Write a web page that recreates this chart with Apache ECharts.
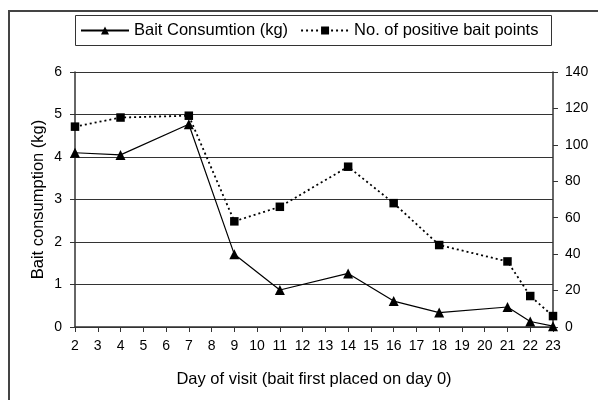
<!DOCTYPE html>
<html>
<head>
<meta charset="utf-8">
<script src="https://cdn.jsdelivr.net/npm/echarts@6/dist/echarts.min.js"></script>
<style>
html,body{margin:0;padding:0;background:#fff;}
#chart{width:598px;height:400px;}
</style>
</head>
<body>
<div id="chart"></div>
<script>
const visitDays = [2, 4, 7, 9, 11, 14, 16, 18, 21, 22, 23];
const baitKg = [4.10, 4.05, 4.77, 1.71, 0.87, 1.26, 0.61, 0.34, 0.47, 0.13, 0.02];
const positivePoints = [110, 115, 116, 58, 66, 88, 68, 45, 36, 17, 6];
const leftTicks = [0, 1, 2, 3, 4, 5, 6];
const rightTicks = [0, 20, 40, 60, 80, 100, 120, 140];
const seriesNames = ['Bait Consumtion (kg)', 'No. of positive bait points'];

const font = 'Liberation Sans, Arial, sans-serif';
const chart = echarts.init(document.getElementById('chart'), null, {renderer: 'canvas'});
chart.setOption({
  animation: false,
  backgroundColor: '#fff',
  textStyle: {fontFamily: font, color: '#000'},
  graphic: [
    {type: 'rect', shape: {x: 9, y: 11, width: 600, height: 400}, style: {fill: 'none', stroke: '#444', lineWidth: 2}, z: 0},
    {type: 'rect', shape: {x: 75.5, y: 15.5, width: 476, height: 30}, style: {fill: 'none', stroke: '#333', lineWidth: 1}, z: 0}
  ],
  legend: {
    left: 80, top: 22, itemWidth: 48, itemHeight: 10, itemGap: 12, padding: 0,
    textStyle: {fontFamily: font, fontSize: 16.5, color: '#000'},
    data: seriesNames
  },
  grid: {left: 75, right: 45, top: 72, bottom: 73, containLabel: false},
  xAxis: {
    type: 'value', min: 2, max: 23, interval: 1,
    name: 'Day of visit (bait first placed on day 0)', nameLocation: 'middle', nameGap: 44,
    nameMoveOverlap: false,
    nameTextStyle: {fontFamily: font, fontSize: 16.5, color: '#000'},
    axisLine: {lineStyle: {color: '#333', width: 1.5}},
    axisTick: {show: true, length: 5, inside: false, lineStyle: {color: '#333'}},
    axisLabel: {fontFamily: font, fontSize: 14, color: '#000', margin: 12},
    splitLine: {show: false}
  },
  yAxis: [
    {
      type: 'value', min: 0, max: 6, interval: 1, position: 'left',
      name: 'Bait consumption (kg)', nameLocation: 'middle', nameGap: 28, nameRotate: 90,
      nameMoveOverlap: false,
      nameTextStyle: {fontFamily: font, fontSize: 16.5, color: '#000'},
      axisLine: {show: true, lineStyle: {color: '#333', width: 1.5}},
      axisTick: {show: true, length: 5, lineStyle: {color: '#333'}},
      axisLabel: {fontFamily: font, fontSize: 14, color: '#000', margin: 13},
      splitLine: {show: true, lineStyle: {color: '#333', width: 1}}
    },
    {
      type: 'value', min: 0, max: 140, interval: 20, position: 'right',
      axisLine: {show: true, lineStyle: {color: '#333', width: 1.5}},
      axisTick: {show: true, length: 5, lineStyle: {color: '#333'}},
      axisLabel: {fontFamily: font, fontSize: 14, color: '#000', margin: 12},
      splitLine: {show: false}
    }
  ],
  series: [
    {
      name: seriesNames[0], type: 'line', yAxisIndex: 0,
      data: visitDays.map((d, i) => [d, baitKg[i]]),
      symbol: 'triangle', symbolSize: 10,
      itemStyle: {color: '#000'},
      lineStyle: {color: '#000', width: 1.2},
      z: 3
    },
    {
      name: seriesNames[1], type: 'line', yAxisIndex: 1,
      data: visitDays.map((d, i) => [d, positivePoints[i]]),
      symbol: 'rect', symbolSize: 8.5,
      itemStyle: {color: '#000'},
      lineStyle: {color: '#000', width: 1.8, type: [2, 3]},
      z: 2
    }
  ]
});
</script>
</body>
</html>
